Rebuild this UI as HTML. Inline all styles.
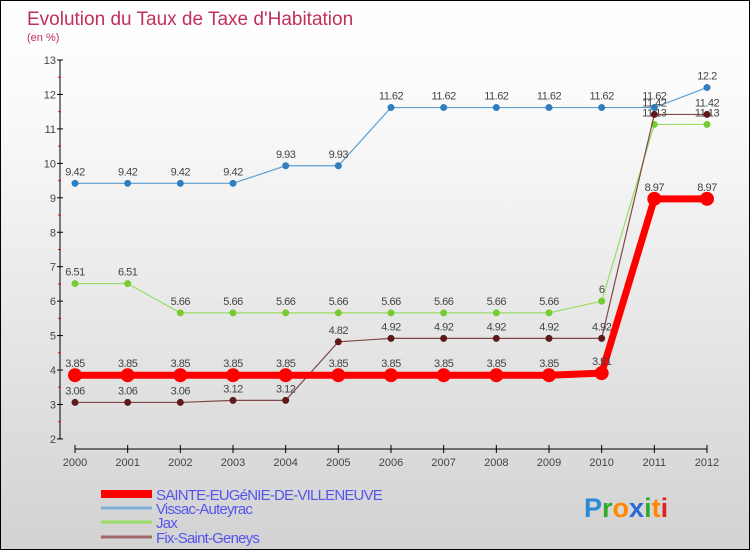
<!DOCTYPE html>
<html><head><meta charset="utf-8"><style>
body{margin:0}
#c{width:748px;height:548px;border:1px solid #000;background:linear-gradient(#fff,#fafafa 20%,#d2d2d2);position:relative;font-family:"Liberation Sans",sans-serif}
</style></head><body>
<div id="c">
<svg id="s" width="748" height="548" xmlns="http://www.w3.org/2000/svg">
<text x="26" y="24" font-size="19" fill="#c0305a">Evolution du Taux de Taxe d'Habitation</text>
<text x="26" y="40" font-size="11" fill="#c0305a">(en %)</text>
</svg>
</div>
<script>
const years=[2000,2001,2002,2003,2004,2005,2006,2007,2008,2009,2010,2011,2012];
const sainte=[3.85,3.85,3.85,3.85,3.85,3.85,3.85,3.85,3.85,3.85,3.91,8.97,8.97];
const vissac=[9.42,9.42,9.42,9.42,9.93,9.93,11.62,11.62,11.62,11.62,11.62,11.62,12.2];
const jax=[6.51,6.51,5.66,5.66,5.66,5.66,5.66,5.66,5.66,5.66,6,11.13,11.13];
const fix=[3.06,3.06,3.06,3.12,3.12,4.82,4.92,4.92,4.92,4.92,4.92,11.42,11.42];
const yTicks=[2,3,4,5,6,7,8,9,10,11,12,13];
const names=["SAINTE-EUGéNIE-DE-VILLENEUVE","Vissac-Auteyrac","Jax","Fix-Saint-Geneys"];
const NS="http://www.w3.org/2000/svg";
const s=document.getElementById('s');
const X=i=>74+i*(632/(years.length-1));
const Y=v=>59+(13-v)*34.45;
function mk(t,a,p){const e=document.createElementNS(NS,t);for(const k in a)e.setAttribute(k,a[k]);(p||s).appendChild(e);return e;}
// axes
let ax=mk('line',{x1:59,y1:59,x2:59,y2:438,stroke:'#000'});


yTicks.forEach(v=>{
 mk('line',{x1:56,x2:62,y1:Y(v),y2:Y(v),stroke:'#000'});
 if(v<13)mk('line',{x1:57,x2:60,y1:Y(v+0.5),y2:Y(v+0.5),stroke:'#f00'});
 const t=mk('text',{x:55,y:Y(v)+4,'text-anchor':'end','font-size':11,fill:'#444'});t.textContent=v;
 
 
});
let xa=mk('line',{x1:74,y1:448,x2:706,y2:448,stroke:'#000'});


years.forEach((y,i)=>{
 mk('line',{x1:X(i),x2:X(i),y1:444,y2:452,stroke:'#000'});
 const t=mk('text',{x:X(i),y:465,'text-anchor':'middle','font-size':11,fill:'#444'});t.textContent=y;
 
 
});
function series(d,col,dot,w,r,name){
 const g=mk('g',{});
 
 
 mk('polyline',{points:d.map((v,i)=>X(i)+','+Y(v)).join(' '),fill:'none',stroke:col,'stroke-width':w},g);
 d.forEach((v,i)=>{
  const c=mk('circle',{cx:X(i),cy:Y(v),r:r,fill:dot},g);
  
  
  const t=mk('text',{x:X(i),y:Y(v)-8,'text-anchor':'middle','font-size':11,fill:'#444','letter-spacing':'-0.5'},g);t.textContent=v;
  
  
 });
}
series(vissac,'#5a9fd4','#2f7fc0',1.2,3.5,'series-vissac');
series(jax,'#99dd66','#77cc33',1.2,3.5,'series-jax');
series(fix,'#804848','#601818',1.2,3.5,'series-fix');
series(sainte,'#f00','#f00',7,7,'series-sainte');
// legend
const lc=['#f00','#7fb0d8','#99dd66','#a06868'],lw=[8,3,3,3],ly=[493,507,521,536];
names.forEach((n,i)=>{
 const g=mk('g',{});
 
 
 mk('line',{x1:100,x2:151,y1:ly[i],y2:ly[i],stroke:lc[i],'stroke-width':lw[i]},g);
 const t=mk('text',{x:155,y:ly[i]+6,'font-size':15,fill:'#5555ee','letter-spacing':'-0.8'},g);t.textContent=n;
});
const lg=mk('text',{x:583,y:516,'font-size':27,'font-weight':'bold','font-family':'Liberation Sans'});


[['P','#2a8ad8'],['r','#33aa33'],['o','#ff8800'],['x','#2a6ad8'],['i','#33aa33'],['t','#ff8800'],['i','#dd2222']].forEach(([c,f])=>{const sp=mk('tspan',{fill:f},lg);sp.textContent=c;});
</script>
</body></html>
